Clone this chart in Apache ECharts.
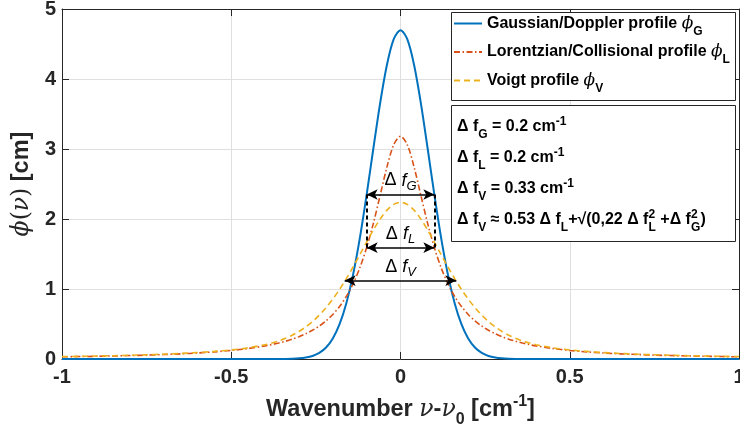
<!DOCTYPE html>
<html><head><meta charset="utf-8">
<script src="https://cdn.jsdelivr.net/npm/echarts@6/dist/echarts.min.js"></script>
<style>html,body{margin:0;padding:0;background:#fff}#c{width:740px;height:442px}</style>
</head><body><div id="c"></div>
<script>
// ---- data ----
const wavenumber = [-1,-0.95,-0.9,-0.85,-0.8,-0.75,-0.7,-0.65,-0.6,-0.55,-0.5,-0.45,
  -0.4,-0.38,-0.36,-0.34,-0.32,-0.3,-0.28,-0.26,-0.24,-0.22,-0.2,-0.18,-0.16,-0.14,-0.12,-0.1,-0.08,-0.06,-0.04,-0.02,
  0,
  0.02,0.04,0.06,0.08,0.1,0.12,0.14,0.16,0.18,0.2,0.22,0.24,0.26,0.28,0.3,0.32,0.34,0.36,0.38,0.4,
  0.45,0.5,0.55,0.6,0.65,0.7,0.75,0.8,0.85,0.9,0.95,1];
const gaussian = [0,0,0,0,0,0,0,0,0,0,0,0,
  0.0001,0.0002,0.0006,0.0016,0.0039,0.0092,0.0205,0.0433,0.0867,0.1640,0.2936,0.4972,0.7965,1.2073,1.7313,2.3486,3.0142,3.6600,4.2041,4.5688,
  4.6972,
  4.5688,4.2041,3.6600,3.0142,2.3486,1.7313,1.2073,0.7965,0.4972,0.2936,0.1640,0.0867,0.0433,0.0205,0.0092,0.0039,0.0016,0.0006,0.0002,0.0001,
  0,0,0,0,0,0,0,0,0,0,0,0];
const lorentzian = [0.0315,0.0349,0.0388,0.0435,0.0490,0.0556,0.0637,0.0736,0.0860,0.1019,0.1224,0.1498,
  0.1872,0.2062,0.2280,0.2534,0.2832,0.3183,0.3601,0.4102,0.4709,0.5451,0.6366,0.7507,0.8941,1.0754,1.3046,1.5916,1.9409,2.3405,2.7441,3.0607,
  3.1831,
  3.0607,2.7441,2.3405,1.9409,1.5916,1.3046,1.0754,0.8941,0.7507,0.6366,0.5451,0.4709,0.4102,0.3601,0.3183,0.2832,0.2534,0.2280,0.2062,0.1872,
  0.1498,0.1224,0.1019,0.0860,0.0736,0.0637,0.0556,0.0490,0.0435,0.0388,0.0349,0.0315];
const voigt = [0.0346,0.0382,0.0425,0.0474,0.0533,0.0603,0.0687,0.0791,0.0919,0.1083,0.1297,0.1598,
  0.2048,0.2294,0.2591,0.2954,0.3396,0.3933,0.4580,0.5353,0.6269,0.7337,0.8566,0.9953,1.1491,1.3158,1.4916,1.6704,1.8438,2.0004,2.1268,2.2095,
  2.2384,
  2.2095,2.1268,2.0004,1.8438,1.6704,1.4916,1.3158,1.1491,0.9953,0.8566,0.7337,0.6269,0.5353,0.4580,0.3933,0.3396,0.2954,0.2591,0.2294,0.2048,
  0.1598,0.1297,0.1083,0.0919,0.0791,0.0687,0.0603,0.0533,0.0474,0.0425,0.0382,0.0346];
const seriesNames = ['Gaussian/Doppler profile', 'Lorentzian/Collisional profile', 'Voigt profile'];
const seriesSubs = ['G', 'L', 'V'];
// FWHM annotation: half widths and half-maximum heights
const widthKeys = ['G', 'L', 'V'];
const fwhmHalf = [0.1, 0.1, 0.165];
const halfMax = [2.35, 1.59, 1.12];
const xRange = [-1, 1], xStep = 0.5;
const yRange = [0, 5], yStep = 1;
const infoValues = [['G', '0.2'], ['L', '0.2'], ['V', '0.33']];

// ---- styling ----
const SANS = 'Liberation Sans, Arial, Helvetica, sans-serif';
const SERIF = 'DejaVu Serif, serif';
const AX = '#262626';
const colors = ['#0072BD', '#D95319', '#EDB120'];

const chart = echarts.init(document.getElementById('c'), null, {renderer: 'canvas'});

const nameRich = {
  t: {fontFamily: SANS, fontWeight: 'bold', fontSize: 23.5, color: AX, lineHeight: 30},
  n: {fontFamily: SERIF, fontStyle: 'italic', fontSize: 23.5, color: AX, lineHeight: 30},
  r: {fontFamily: SERIF, fontSize: 23.5, color: AX, lineHeight: 30},
  sb: {fontFamily: SANS, fontWeight: 'bold', fontSize: 16, color: AX, lineHeight: 10, height: 10, verticalAlign: 'bottom'},
  sp: {fontFamily: SANS, fontWeight: 'bold', fontSize: 16, color: AX, lineHeight: 14, height: 14, verticalAlign: 'top'}
};

const arrowData = [];
for (let i = 0; i < 3; i++) {
  arrowData.push([
    {coord: [-fwhmHalf[i], halfMax[i]], symbol: 'arrow',
      lineStyle: {color: '#000', width: 1.5, type: 'solid'},
      label: {show: true, position: 'middle', distance: 4,
        formatter: '{d|Δ }{f|f}{s|' + widthKeys[i] + '}',
        rich: {
          d: {fontFamily: SANS, fontSize: 18, color: '#000', lineHeight: 20},
          f: {fontFamily: SANS, fontStyle: 'italic', fontSize: 18, color: '#000', lineHeight: 20},
          s: {fontFamily: SANS, fontStyle: 'italic', fontSize: 13, color: '#000', lineHeight: 8, height: 8, verticalAlign: 'bottom'}
        }}},
    {coord: [fwhmHalf[i], halfMax[i]], symbol: 'arrow'}
  ]);
}
// dashed verticals linking Gaussian and Lorentzian half-width markers
[-1, 1].forEach(s => {
  arrowData.push([
    {coord: [s * fwhmHalf[0], halfMax[0]], symbol: 'none',
      lineStyle: {color: '#000', width: 2, type: [4, 3]}, label: {show: false}},
    {coord: [s * fwhmHalf[1], halfMax[1]], symbol: 'none'}
  ]);
});

function pairs(ys) { return wavenumber.map((x, i) => [x, ys[i]]); }

const lineDefs = [
  {data: gaussian, type: 'solid', width: 2},
  {data: lorentzian, type: [6, 2.5, 1.5, 2.5], width: 1.6},
  {data: voigt, type: [6, 4], width: 1.6}
];
const series = lineDefs.map((d, i) => ({
  name: seriesNames[i], type: 'line', data: pairs(d.data), symbol: 'none', showSymbol: false,
  smooth: 0.3, animation: false, silent: true,
  lineStyle: {color: colors[i], width: d.width, type: d.type},
  itemStyle: {color: colors[i]}, z: 2 + i
}));
series[2].markLine = {silent: true, animation: false, symbol: ['arrow', 'arrow'], symbolSize: [8, 11],
  data: arrowData, emphasis: {disabled: true}};

const lineT = (k, v) => `{m|Δ f}{sb|${k}}{m| = ${v} cm}{sp|-1}`;
const infoText = infoValues.map(a => lineT(a[0], a[1])).join('\n') + '\n' +
  '{m|Δ f}{sb|V}{m| ≈ 0.53 Δ f}{sb|L}{m|+√(0,22 Δ f}{sz|2}{sb|L}{m| +Δ f}{sz|2}{sb|G}{m|)}';

const option = {
  backgroundColor: '#fff',
  animation: false,
  grid: {left: 62, right: 1, top: 9, bottom: 83, containLabel: false, outerBoundsMode: 'none'},
  xAxis: [{
    type: 'value', min: xRange[0], max: xRange[1], interval: xStep, position: 'bottom',
    axisLine: {show: true, onZero: false, lineStyle: {color: AX, width: 1}},
    axisTick: {show: true, inside: true, length: 7, lineStyle: {color: AX}},
    axisLabel: {color: AX, fontFamily: SANS, fontWeight: 'bold', fontSize: 20, margin: 8, showMaxLabel: true, showMinLabel: true, hideOverlap: false},
    splitLine: {show: true, lineStyle: {color: '#dfdfdf', width: 1}},
    name: '{t|Wavenumber }{n|ν}{t|-}{n|ν}{sb|0}{t| [cm}{sp|-1}{t|]}',
    nameLocation: 'middle', nameGap: 36,
    nameTextStyle: {rich: nameRich}
  }, {
    type: 'value', min: xRange[0], max: xRange[1], interval: xStep, position: 'top',
    axisLine: {show: true, onZero: false, lineStyle: {color: AX, width: 1}},
    axisTick: {show: true, inside: true, length: 7, lineStyle: {color: AX}},
    axisLabel: {show: false}, splitLine: {show: false}
  }],
  yAxis: [{
    type: 'value', min: yRange[0], max: yRange[1], interval: yStep, position: 'left',
    axisLine: {show: true, onZero: false, lineStyle: {color: AX, width: 1}},
    axisTick: {show: true, inside: true, length: 7, lineStyle: {color: AX}},
    axisLabel: {color: AX, fontFamily: SANS, fontWeight: 'bold', fontSize: 20, margin: 6},
    splitLine: {show: true, lineStyle: {color: '#dfdfdf', width: 1}},
    name: '{n|ϕ}{r|(}{n|ν}{r|)}{t| [cm]}',
    nameLocation: 'middle', nameGap: 16,
    nameTextStyle: {rich: nameRich}
  }, {
    type: 'value', min: yRange[0], max: yRange[1], interval: yStep, position: 'right',
    axisLine: {show: true, onZero: false, lineStyle: {color: AX, width: 1}},
    axisTick: {show: true, inside: true, length: 7, lineStyle: {color: AX}},
    axisLabel: {show: false}, splitLine: {show: false}
  }],
  legend: {
    show: true, orient: 'vertical', left: 453, top: 15, padding: 0, itemGap: 6,
    itemWidth: 28, itemHeight: 14, selectedMode: false, z: 10,
    itemStyle: {color: 'rgba(0,0,0,0)', borderWidth: 0, opacity: 0},
    data: seriesNames,
    formatter: name => `{t|${name} }{p|ϕ}{s|${seriesSubs[seriesNames.indexOf(name)]}}`,
    textStyle: {
      rich: {
        t: {fontFamily: SANS, fontWeight: 'bold', fontSize: 16, color: '#000', lineHeight: 22},
        p: {fontFamily: SERIF, fontStyle: 'italic', fontSize: 17, color: '#000', lineHeight: 22},
        s: {fontFamily: SANS, fontWeight: 'bold', fontSize: 12, color: '#000', lineHeight: 6, height: 6, verticalAlign: 'bottom'}
      }
    }
  },
  graphic: [
    {type: 'rect', z: 8, shape: {x: 451.5, y: 12.5, width: 284, height: 88}, style: {fill: '#fff', stroke: AX, lineWidth: 1}, silent: true},
    {type: 'rect', z: 8, shape: {x: 451.5, y: 105.5, width: 284, height: 136}, style: {fill: '#fff', stroke: AX, lineWidth: 1}, silent: true},
    {type: 'text', z: 9, silent: true, style: {
      x: 457, y: 111, text: infoText,
      rich: {
        m: {fontFamily: SANS, fontWeight: 'bold', fontSize: 16, fill: '#000', lineHeight: 31},
        sb: {fontFamily: SANS, fontWeight: 'bold', fontSize: 12, fill: '#000', lineHeight: 15, height: 15, verticalAlign: 'bottom'},
        sp: {fontFamily: SANS, fontWeight: 'bold', fontSize: 12, fill: '#000', lineHeight: 21, height: 21, verticalAlign: 'top'},
        sz: {fontFamily: SANS, fontWeight: 'bold', fontSize: 12, fill: '#000', lineHeight: 21, height: 21, verticalAlign: 'top', width: 0.1}
      }
    }}
  ],
  series: series
};
chart.setOption(option);
</script></body></html>
